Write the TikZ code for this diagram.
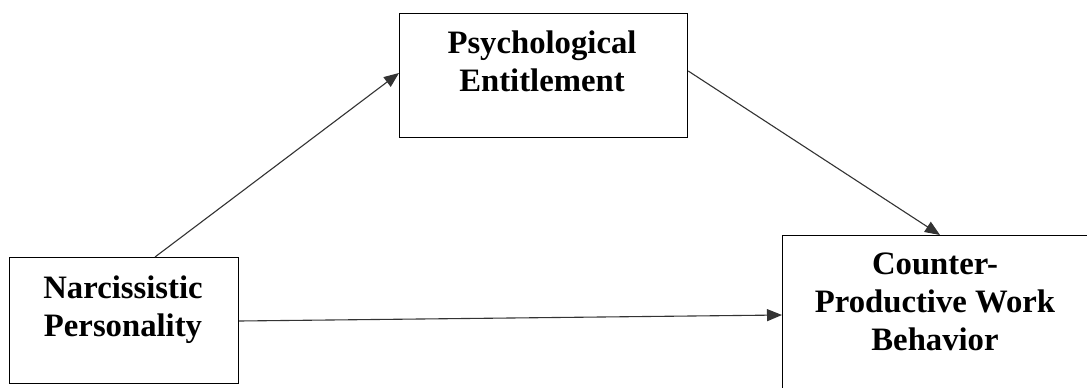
\documentclass[tikz,border=0pt]{standalone}
\usepackage{fontspec}
\setmainfont{Liberation Serif}
\usetikzlibrary{arrows.meta}
\tikzset{
  boxnode/.style={draw=black, line width=1.2pt, inner sep=0pt, anchor=north west},
  labeltext/.style={font=\bfseries\fontsize{32.7}{38}\selectfont, align=center, inner sep=0pt},
  conn/.style={draw=black!80, line width=1.1pt, -{Triangle[length=15pt,width=12pt]}}
}
\begin{document}
\begin{tikzpicture}[x=1pt,y=-1pt]
\useasboundingbox (0,0) rectangle (1087,388);
\begin{scope}
\clip (0,0) rectangle (1087,388);
\fill[white] (-20,-20) rectangle (1120,420);
% boxes
\node[boxnode, minimum width=288pt, minimum height=124pt] (pe) at (399,13) {};
\node[boxnode, minimum width=229pt, minimum height=126pt] (np) at (9,257) {};
\node[boxnode, minimum width=400pt, minimum height=200pt] (cw) at (782,235) {};
% texts
\node[labeltext] (pet) at (542,61) {Psychological\\Entitlement};
\node[labeltext] (npt) at (123,310) {Narcissistic\\Personality};
\node[labeltext] (cwt) at (935,301.5) {Counter-\\Productive Work\\Behavior};
% connectors
\draw[conn] ([xshift=146pt]np.north west) -- ([yshift=-60pt]pe.north west);
\draw[conn] ([yshift=-58pt]pe.north east) -- ([xshift=158pt]cw.north west);
\draw[conn] ([yshift=-64pt]np.north east) -- ([yshift=-80pt]cw.north west);
\end{scope}
\end{tikzpicture}
\end{document}
